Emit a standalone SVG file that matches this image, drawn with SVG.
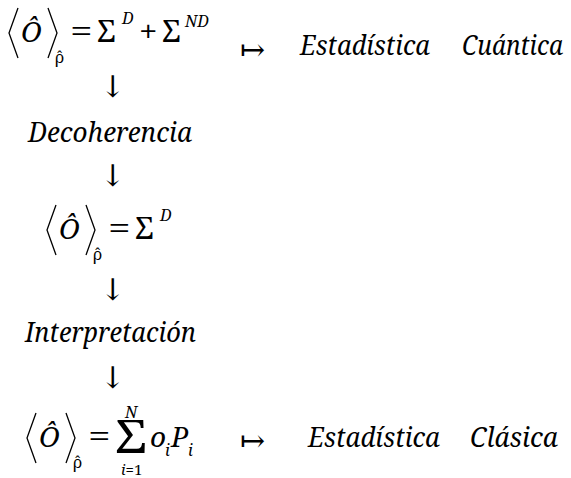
<svg xmlns="http://www.w3.org/2000/svg" width="571" height="478" viewBox="0 0 571 478">
<style>
text{font-family:"Noto Serif","DejaVu Serif",serif;fill:#000}
.o{font-size:28px;font-style:italic}
.rho{font-size:16px}
.eq{font-size:30px}
.sg{font-size:31px}
.sup{font-size:16px;font-style:italic}
.sub{font-size:16px;font-style:italic}
.w{font-size:28px;font-style:italic}
.ar{font-family:"DejaVu Serif",serif;font-size:30px}
.br{fill:none;stroke:#000;stroke-width:1.3}
</style>
<g id="eq1">
<path class="br" d="M18,8 L9,33 L18,58 M48,8 L57,33 L48,58"/>
<text class="o" x="21" y="42">Ô</text>
<text class="rho" x="55" y="63">ρ̂</text>
<text class="eq" transform="translate(70,42) scale(1.35,1)">=</text>
<text class="sg" x="97" y="42">Σ</text>
<text class="sup" x="122" y="24">D</text>
<text class="eq" transform="translate(139,42) scale(1.1,1)">+</text>
<text class="sg" x="162" y="42">Σ</text>
<text class="sup" x="185" y="27">ND</text>
</g>
<g id="map1"><text class="ar" x="240" y="60">↦</text></g>
<g id="cuantica"><text class="w" x="300" y="55" textLength="130" lengthAdjust="spacingAndGlyphs">Estadística</text><text class="w" x="462" y="55" textLength="101" lengthAdjust="spacingAndGlyphs">Cuántica</text></g>
<g id="decoherencia"><text class="w" x="28" y="142" textLength="164" lengthAdjust="spacingAndGlyphs">Decoherencia</text></g>
<g id="eq2" transform="translate(38,197)">
<path class="br" d="M18,8 L9,33 L18,58 M48,8 L57,33 L48,58"/>
<text class="o" x="21" y="42">Ô</text>
<text class="rho" x="55" y="63">ρ̂</text>
<text class="eq" transform="translate(70,42) scale(1.35,1)">=</text>
<text class="sg" x="97" y="42">Σ</text>
<text class="sup" x="122" y="24">D</text>
</g>
<g id="interpretacion"><text class="w" x="25" y="342" textLength="171" lengthAdjust="spacingAndGlyphs">Interpretación</text></g>
<g id="eq3">
<g transform="translate(18,405)">
<path class="br" d="M18,8 L9,33 L18,58 M48,8 L57,33 L48,58"/>
<text class="o" x="21" y="42">Ô</text>
<text class="rho" x="55" y="63">ρ̂</text>
<text class="eq" transform="translate(70,42) scale(1.35,1)">=</text>
</g>
<text style="font-size:46px" transform="translate(115,453) scale(1.15,1)">Σ</text>
<text class="sup" x="125" y="418">N</text>
<text style="font-size:15px" x="121" y="475"><tspan font-style="italic">i</tspan>=1</text>
<text class="o" x="150" y="447">o</text>
<text class="sub" x="165" y="456">i</text>
<text class="o" x="171" y="447">P</text>
<text class="sub" x="188" y="456">i</text>
</g>
<g id="map2"><text class="ar" x="240" y="451">↦</text></g>
<g id="clasica"><text class="w" x="308" y="447" textLength="132" lengthAdjust="spacingAndGlyphs">Estadística</text><text class="w" x="470" y="447" textLength="88" lengthAdjust="spacingAndGlyphs">Clásica</text></g>
<g id="connectors">
<text class="ar" x="100" y="97">↓</text>
<text class="ar" x="100" y="186">↓</text>
<text class="ar" x="100" y="300">↓</text>
<text class="ar" x="100" y="388">↓</text>
</g>
</svg>
